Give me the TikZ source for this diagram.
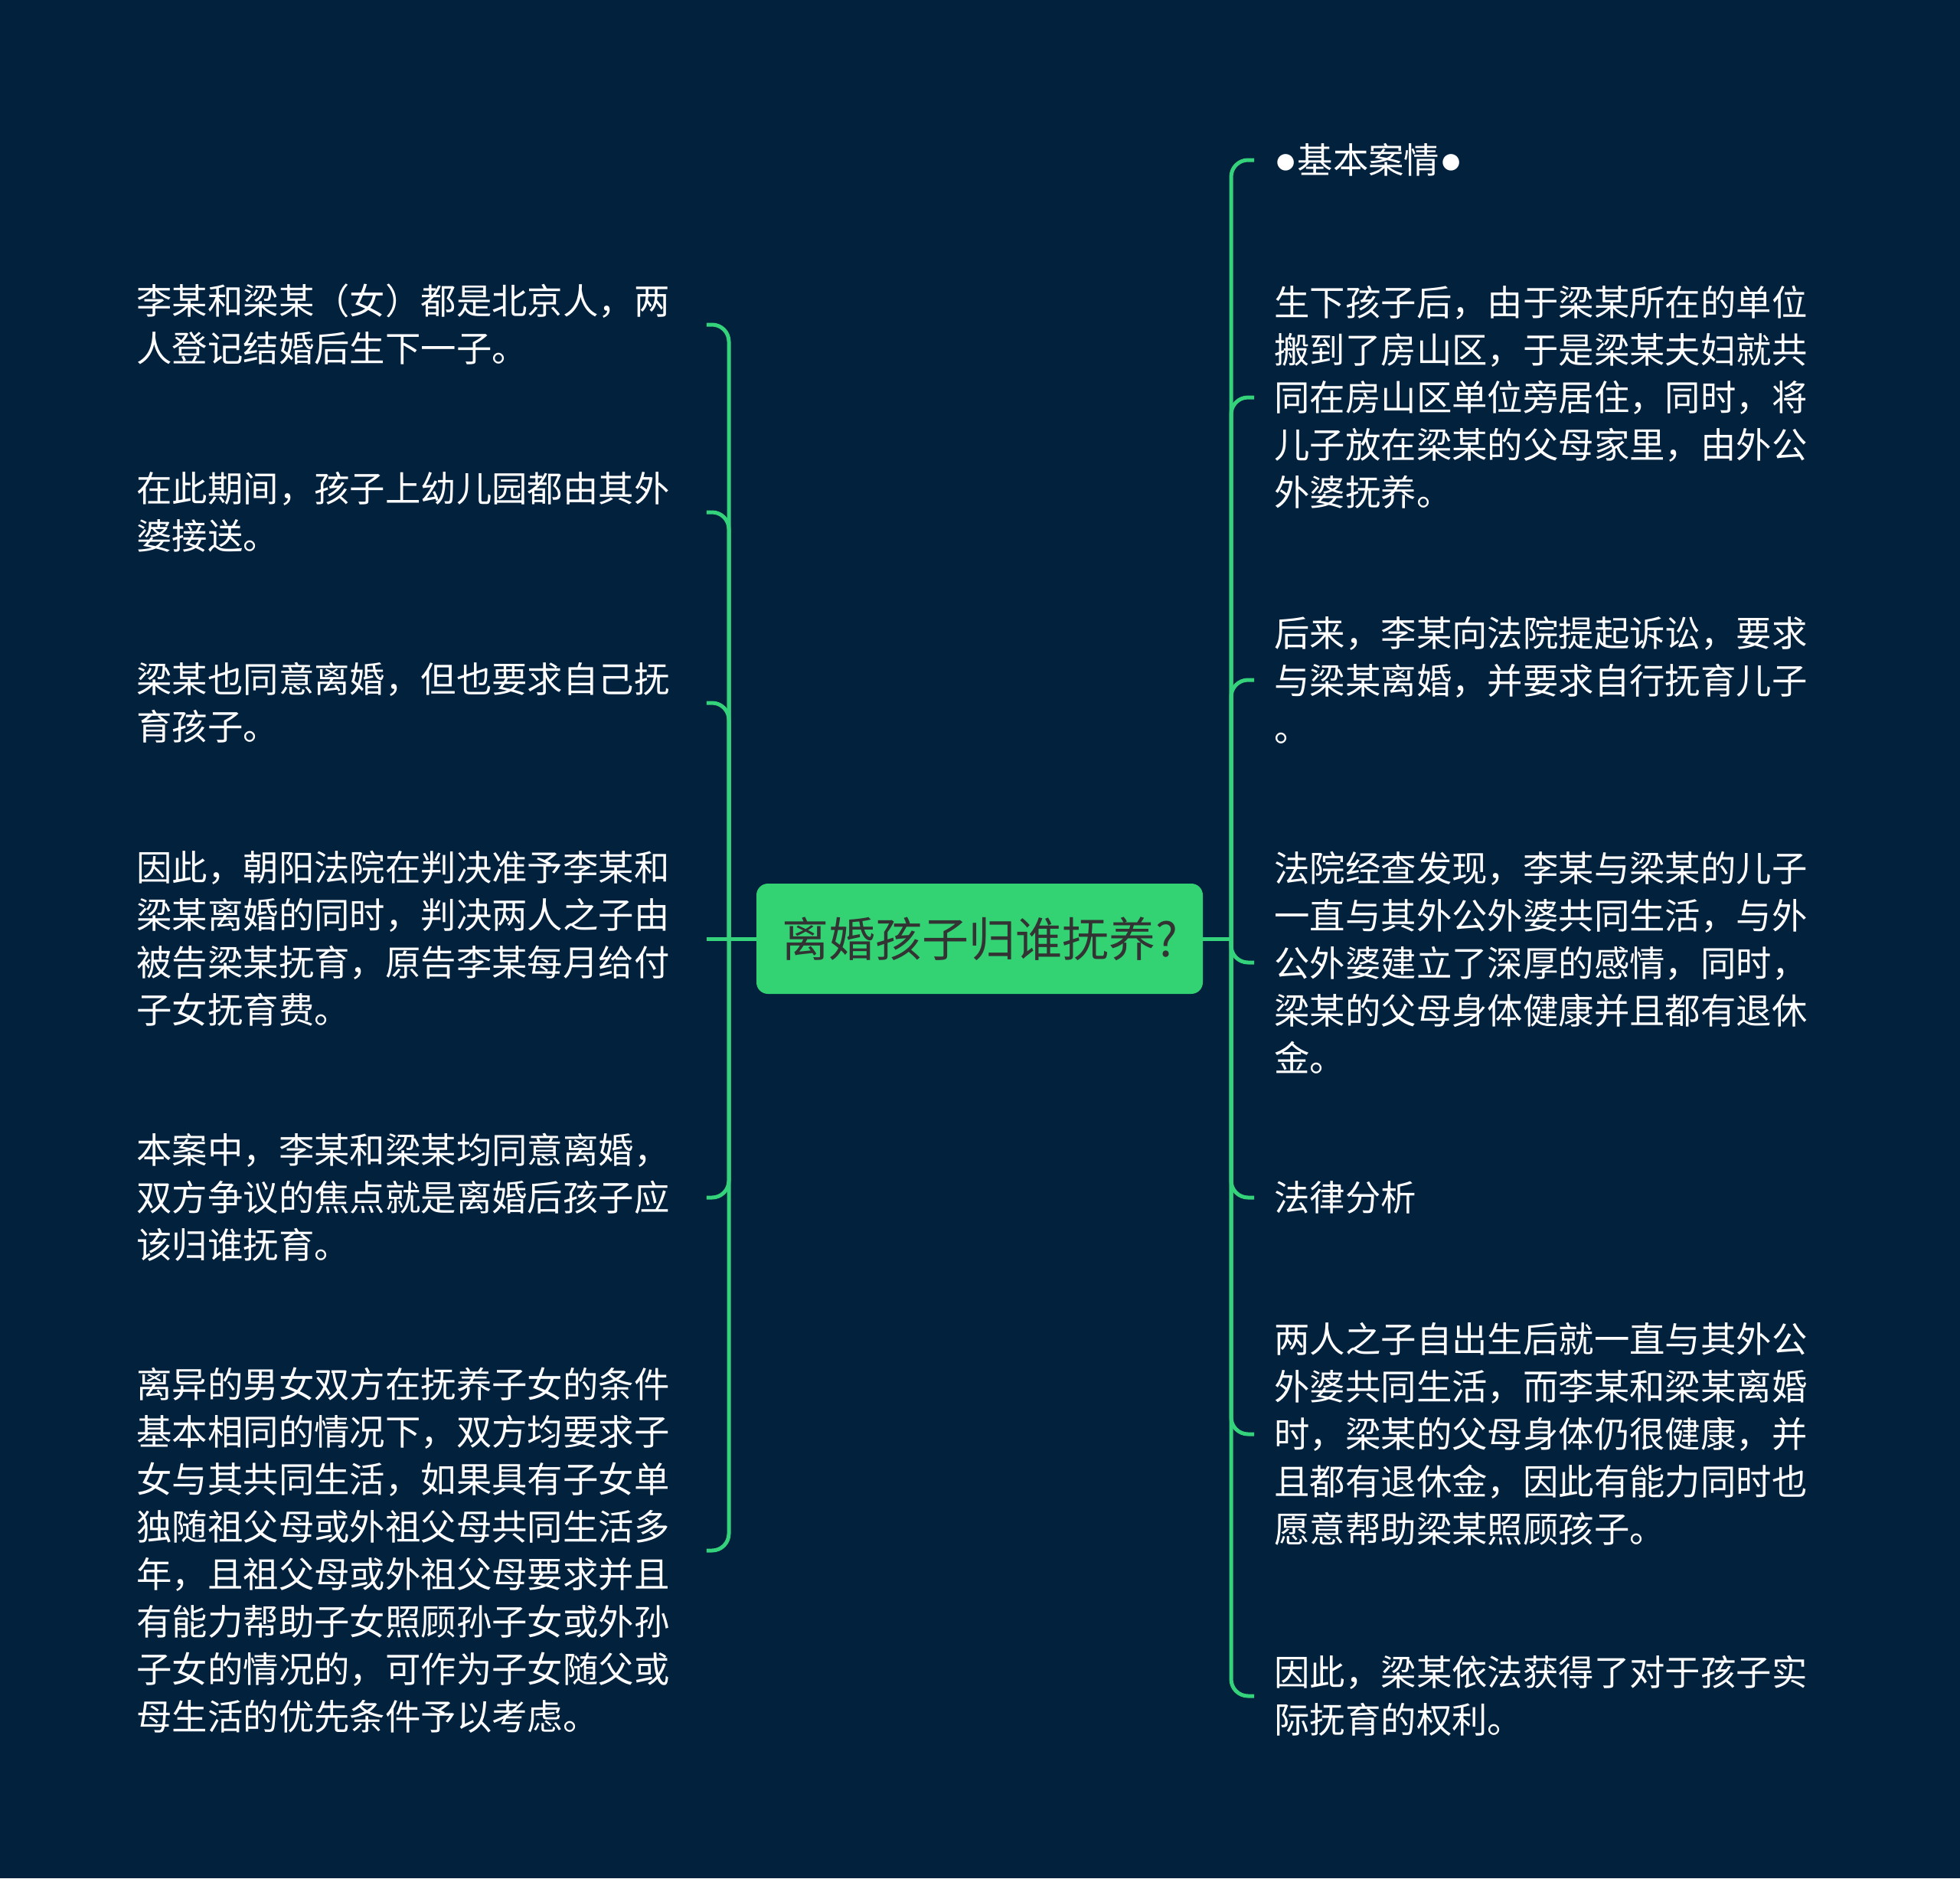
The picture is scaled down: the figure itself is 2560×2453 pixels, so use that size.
\documentclass[tikz,border=0pt]{standalone}
\usepackage{fontspec}
\setmainfont{Noto Sans CJK SC}
\newfontfamily\cjk{Noto Sans CJK SC}
\newfontfamily\bulletfont{Liberation Sans}
\definecolor{bgnavy}{HTML}{02213D}
\definecolor{mapgreen}{HTML}{33D273}
\definecolor{linkgreen}{HTML}{34D27A}
\definecolor{roottext}{HTML}{333333}
\newcommand{\blt}{{\bulletfont\fontsize{25pt}{31pt}\selectfont ●}}
\tikzset{
  leaf/.style={anchor=west, align=left, inner sep=0pt, text=white,
    font=\cjk\fontsize{23.2pt}{31pt}\selectfont},
  rootbox/.style={fill=mapgreen, rounded corners=7.5pt, inner sep=0pt,
    minimum width=291.5pt, minimum height=72pt, text=roottext,
    font=\cjk\fontsize{30.5pt}{36pt}\selectfont},
  link/.style={draw=linkgreen, line width=2.5pt},
  elbowlink/.style={link, rounded corners=11pt}
}
\begin{document}
\begin{tikzpicture}[x=0.5pt, y=-0.5pt]
\fill[bgnavy] (0,0) rectangle (2560,2453);
\useasboundingbox (0,0) rectangle (2560,2453);

\node[rootbox] (root) at (1279.5,1226) {离婚孩子归谁抚养?};

\coordinate (jl) at (952,1226);
\coordinate (jr) at (1608,1226);

% left children
\node[leaf] (L1) at (178,424) {李某和梁某（女）都是北京人，两\\人登记结婚后生下一子。};
\node[leaf] (L2) at (178,669) {在此期间，孩子上幼儿园都由其外\\婆接送。};
\node[leaf] (L3) at (178,918) {梁某也同意离婚，但也要求自己抚\\育孩子。};
\node[leaf] (L4) at (178,1226) {因此，朝阳法院在判决准予李某和\\梁某离婚的同时，判决两人之子由\\被告梁某抚育，原告李某每月给付\\子女抚育费。};
\node[leaf] (L5) at (178,1564) {本案中，李某和梁某均同意离婚，\\双方争议的焦点就是离婚后孩子应\\该归谁抚育。};
\node[leaf] (L6) at (178,2025) {离异的男女双方在抚养子女的条件\\基本相同的情况下，双方均要求子\\女与其共同生活，如果具有子女单\\独随祖父母或外祖父母共同生活多\\年，且祖父母或外祖父母要求并且\\有能力帮助子女照顾孙子女或外孙\\子女的情况的，可作为子女随父或\\母生活的优先条件予以考虑。};

% right children
\node[leaf] (R1) at (1664,209) {\blt 基本案情\blt};
\node[leaf] (R2) at (1664,519) {生下孩子后，由于梁某所在的单位\\搬到了房山区，于是梁某夫妇就共\\同在房山区单位旁居住，同时，将\\儿子放在梁某的父母家里，由外公\\外婆抚养。};
\node[leaf] (R3) at (1664,888) {后来，李某向法院提起诉讼，要求\\与梁某离婚，并要求自行抚育儿子\\。};
\node[leaf] (R4) at (1664,1257) {法院经查发现，李某与梁某的儿子\\一直与其外公外婆共同生活，与外\\公外婆建立了深厚的感情，同时，\\梁某的父母身体健康并且都有退休\\金。};
\node[leaf] (R5) at (1664,1564) {法律分析};
\node[leaf] (R6) at (1664,1873) {两人之子自出生后就一直与其外公\\外婆共同生活，而李某和梁某离婚\\时，梁某的父母身体仍很健康，并\\且都有退休金，因此有能力同时也\\愿意帮助梁某照顾孩子。};
\node[leaf] (R7) at (1664,2215) {因此，梁某依法获得了对于孩子实\\际抚育的权利。};

% left connectors
\draw[link] (root.west) -- ([xshift=24pt]L4.east);
\draw[elbowlink] (jl) |- ([xshift=24pt]L1.east);
\draw[elbowlink] (jl) |- ([xshift=24pt]L2.east);
\draw[elbowlink] (jl) |- ([xshift=24pt]L3.east);
\draw[elbowlink] (jl) |- ([xshift=24pt]L5.east);
\draw[elbowlink] (jl) |- ([xshift=24pt]L6.east);

% right connectors
\draw[link] (root.east) -- (jr);
\draw[elbowlink] (jr) |- ([xshift=-13pt]R1.west);
\draw[elbowlink] (jr) |- ([xshift=-13pt]R2.west);
\draw[elbowlink] (jr) |- ([xshift=-13pt]R3.west);
\draw[elbowlink] (jr) |- ([xshift=-13pt]R4.west);
\draw[elbowlink] (jr) |- ([xshift=-13pt]R5.west);
\draw[elbowlink] (jr) |- ([xshift=-13pt]R6.west);
\draw[elbowlink] (jr) |- ([xshift=-13pt]R7.west);
\end{tikzpicture}
\end{document}
